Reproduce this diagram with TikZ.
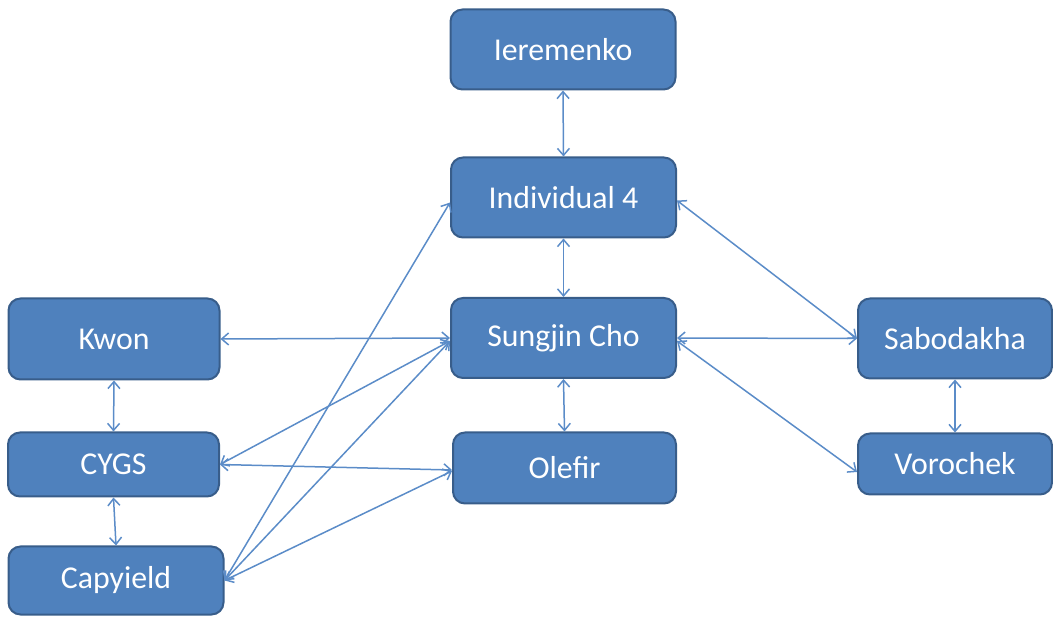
\documentclass[tikz,border=0pt]{standalone}
\usepackage{fontspec}
\setmainfont{Carlito}
\usetikzlibrary{arrows.meta,calc}
\definecolor{boxfill}{HTML}{4F81BD}
\definecolor{boxline}{HTML}{385D8A}
\definecolor{linkcol}{HTML}{5B8CC8}
\begin{document}
\begin{tikzpicture}[x=1pt,y=-1pt,
  box/.style={draw=boxline, line width=2pt, fill=boxfill, rounded corners=12pt,
    text=white, font=\fontsize{31.8}{36}\selectfont, inner sep=0pt, anchor=center},
  link/.style={draw=linkcol, line width=1.5pt,
    {Straight Barb[length=7pt,width=12pt]}-{Straight Barb[length=7pt,width=12pt]}}]
\useasboundingbox (0,0) rectangle (1053,617);
\node[box, minimum width=225pt, minimum height=80pt] (ier) at (563,49.5) {Ieremenko};
\node[box, minimum width=225pt, minimum height=80pt] (ind) at (563.5,197.5) {Individual 4};
\node[box, minimum width=225pt, minimum height=80pt] (sung) at (563.5,338) {Sungjin Cho};
\node[box, minimum width=223pt, minimum height=71pt] (ole) at (564.5,468) {Olefir};
\node[box, minimum width=211pt, minimum height=81pt] (kwon) at (114,339) {Kwon};
\node[box, minimum width=211pt, minimum height=64pt] (cygs) at (113.5,464.5) {CYGS};
\node[box, minimum width=215pt, minimum height=68pt] (cap) at (116,580.5) {Capyield};
\node[box, minimum width=194pt, minimum height=80pt] (sab) at (955,338.5) {Sabodakha};
\node[box, minimum width=194pt, minimum height=61pt] (vor) at (955,464) {Vorochek};

\draw[link] (ier.south) -- (ind.north);
\draw[link] (ind.south) -- (sung.north);
\draw[link] (sung.south) -- (ole.north);
\draw[link] (kwon.east) -- (sung.west);
\draw[link] (kwon.south) -- (cygs.north);
\draw[link] (cygs.south) -- (cap.north);
\draw[link] (cygs.east) -- ($(sung.west)+(0,3)$);
\draw[link] (cygs.east) -- ($(ole.west)+(0,2)$);
\draw[link] (cap.east) -- ($(ind.west)+(0,5)$);
\draw[link] (cap.east) -- ($(sung.west)+(0,3)$);
\draw[link] (cap.east) -- ($(ole.west)+(0,3)$);
\draw[link] ($(ind.east)+(0,3)$) -- (sab.west);
\draw[link] (sung.east) -- (sab.west);
\draw[link] ($(sung.east)+(0,3)$) -- ($(vor.west)+(0,8)$);
\draw[link] (sab.south) -- (vor.north);
\end{tikzpicture}
\end{document}
